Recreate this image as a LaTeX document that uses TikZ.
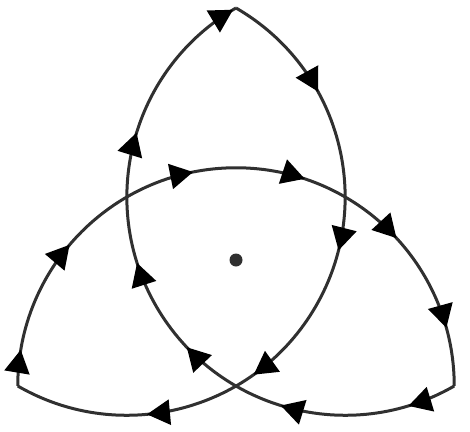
\documentclass[tikz,border=0pt]{standalone}
\usepackage{tikz}
\usetikzlibrary{arrows.meta}
\usetikzlibrary{decorations.markings}
\usepackage{xcolor}
\definecolor{curvegray}{HTML}{303030}

\tikzset{
  >={Triangle[length=23pt,width=25pt]},
  curve/.style={line width=3pt, draw=curvegray},
  tipsA/.style={postaction={decorate, decoration={markings,
    mark=at position 0.173 with {\arrow[black]{>}},
    mark=at position 0.412 with {\arrow[black]{>}},
    mark=at position 0.636 with {\arrow[black]{>}},
    mark=at position 0.804 with {\arrow[black]{>}}}}},
  tipsB/.style={postaction={decorate, decoration={markings,
    mark=at position 0.053 with {\arrow[black]{>}},
    mark=at position 0.224 with {\arrow[black]{>}},
    mark=at position 0.437 with {\arrow[black]{>}},
    mark=at position 0.602 with {\arrow[black]{>}},
    mark=at position 0.763 with {\arrow[black]{>}},
    mark=at position 0.914 with {\arrow[black]{>}}}}},
  tipsC/.style={postaction={decorate, decoration={markings,
    mark=at position 0.073 with {\arrow[black]{>}},
    mark=at position 0.262 with {\arrow[black]{>}},
    mark=at position 0.425 with {\arrow[black]{>}},
    mark=at position 0.569 with {\arrow[black]{>}},
    mark=at position 0.762 with {\arrow[black]{>}},
    mark=at position 0.995 with {\arrow[black]{>}}}}}
}

\begin{document}
\begin{tikzpicture}[x=1pt, y=1pt]
  \useasboundingbox (-236,-171) rectangle (234,260);
  \pgfmathsetmacro{\smallrad}{126}
  \pgfmathsetmacro{\bigrad}{126*sqrt(3)}
  % corners of the three lobes
  \coordinate (top) at (90:2*\smallrad);
  \coordinate (left) at (210:2*\smallrad);
  \coordinate (right) at (330:2*\smallrad);
  % each side is a half circle about a crossing point
  \draw[curve, tipsA] (top) arc[start angle=60, end angle=-120, radius=\bigrad];
  \draw[curve, tipsB] (left) arc[start angle=180, end angle=0, radius=\bigrad];
  \draw[curve, tipsC] (right) arc[start angle=-60, end angle=-240, radius=\bigrad];
  \fill[curvegray] (0,0) circle [radius=6.5];
\end{tikzpicture}
\end{document}
